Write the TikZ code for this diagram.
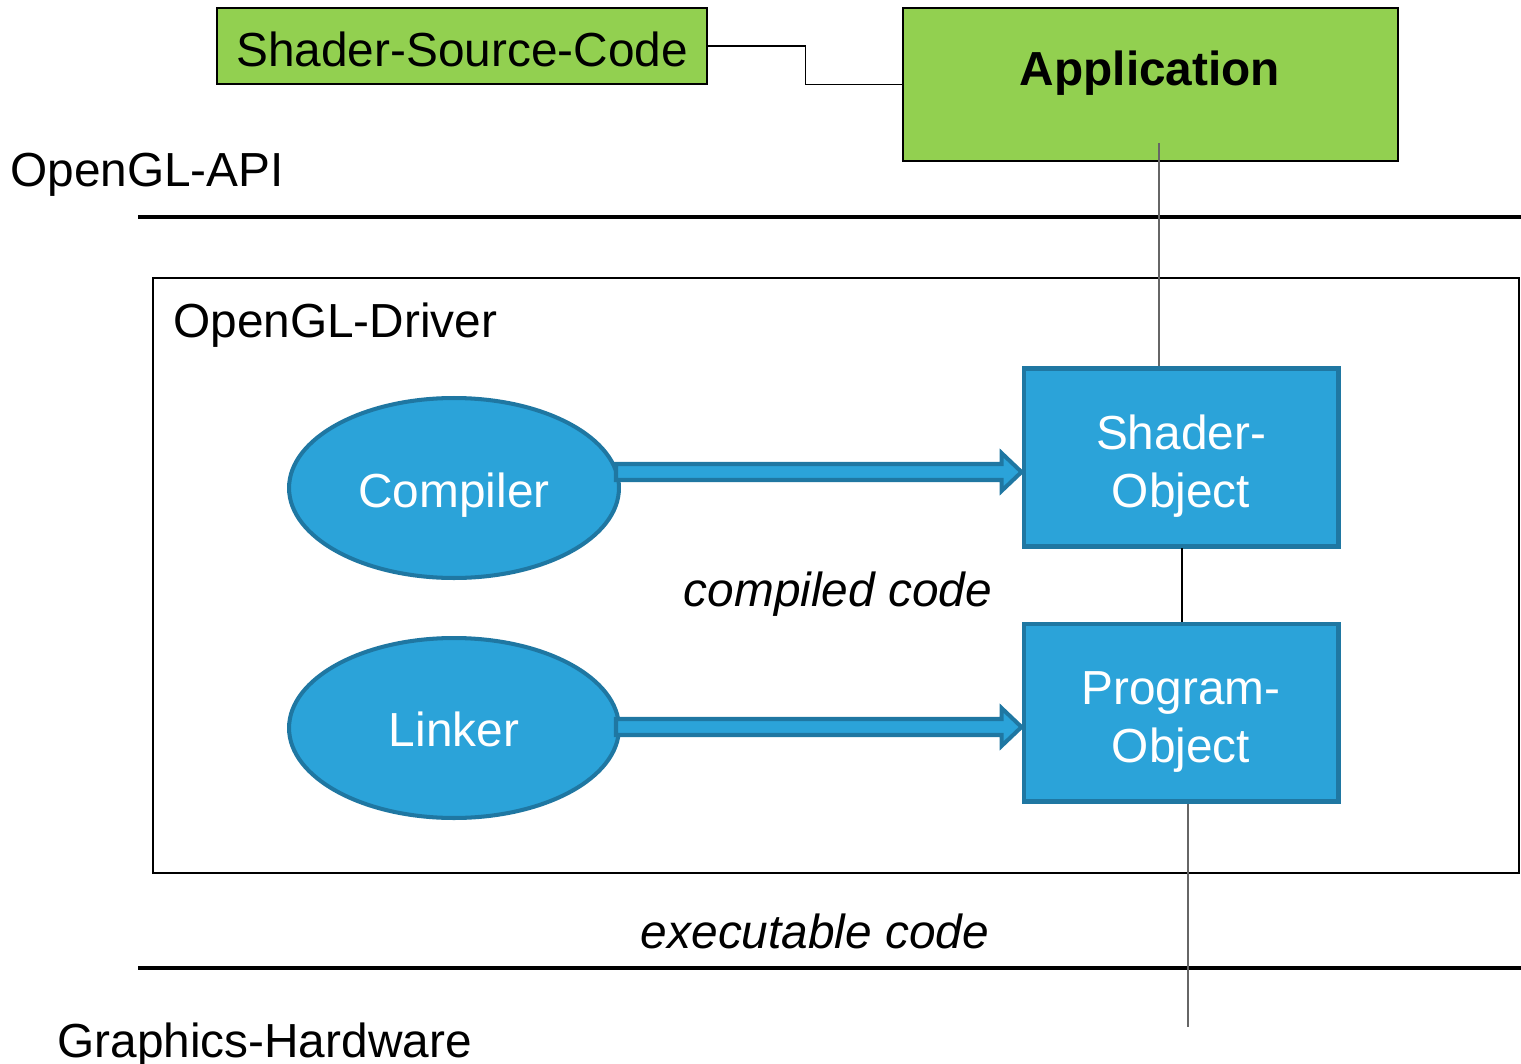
\documentclass[tikz,border=0pt]{standalone}
\usepackage{fontspec}
\setmainfont{Liberation Sans}
\usetikzlibrary{shapes.geometric,calc}
\definecolor{leaf}{HTML}{92D050}
\definecolor{sky}{HTML}{2BA3D9}
\definecolor{deepsky}{HTML}{1F77A2}
\newcommand{\labelsize}{\fontsize{27.2pt}{33pt}\selectfont}
\tikzset{
  lbl/.style={font=\labelsize, inner sep=0pt},
  greenbox/.style={draw=black, line width=0.8pt, fill=leaf, inner sep=0pt},
  unit/.style={ellipse, draw=deepsky, line width=2.3pt, fill=sky, inner sep=0pt,
    minimum width=6.6cm, minimum height=3.6cm},
  obj/.style={rectangle, draw=deepsky, line width=2.3pt, fill=sky, inner sep=0pt,
    minimum width=6.3cm, minimum height=3.56cm},
  layer/.style={line width=2.3pt, black},
  wire/.style={line width=0.8pt, black!60},
  fat/.style={draw=deepsky, fill=sky, line width=2.3pt, line join=miter},
}
% outlined block arrow from #1 to #2 (horizontal)
\newcommand{\blockarrow}[2]{%
  \draw[fat] ($(#1)+(0,-8)$) -- ($(#2)+(-20,-8)$) -- ($(#2)+(-20,-19)$) -- (#2)
    -- ($(#2)+(-20,19)$) -- ($(#2)+(-20,8)$) -- ($(#1)+(0,8)$) -- cycle;}
\begin{document}
\begin{tikzpicture}[x=0.02cm, y=-0.02cm]
\useasboundingbox (0,0) rectangle (1521,1064);

% layer separators
\draw[layer] (138,217) -- (1521,217);
\draw[layer] (138,968) -- (1521,968);

% driver frame
\draw[line width=1.1pt] (153,278) rectangle (1519,873);

% application side
\node[greenbox, minimum width=9.8cm, minimum height=1.52cm] (ssc) at (462,46) {};
\node[lbl, anchor=base] at (462,67) {Shader-Source-Code};
\node[greenbox, minimum width=9.9cm, minimum height=3.06cm] (app) at (1150.5,84.5) {};
\node[lbl, font=\labelsize\bfseries, anchor=base] at (1150,86) {Application};

\draw[line width=0.8pt] (ssc.east) -- ++(98,0) |- (app.west);

% layer labels
\node[lbl, anchor=base west] at (10,187) {OpenGL-API};
\node[lbl, anchor=base west] at (173,337) {OpenGL-Driver};
\node[lbl, anchor=base west] at (57,1057) {Graphics-Hardware};

% driver components
\node[unit] (comp) at (454,488) {};
\node[lbl, text=white, anchor=base] at (454,507) {Compiler};
\node[unit] (link) at (454,728) {};
\node[lbl, text=white, anchor=base] at (454,746) {Linker};

\node[obj] (so) at (1181,457.5) {};
\node[lbl, text=white, anchor=base] at (1181,449) {Shader-};
\node[lbl, text=white, anchor=base] at (1181,507) {Object};
\node[obj] (po) at (1181,712.5) {};
\node[lbl, text=white, anchor=base] at (1181,704) {Program-};
\node[lbl, text=white, anchor=base] at (1181,762) {Object};

% block arrows
\coordinate (c1s) at (616,472);
\coordinate (c1e) at (so.west |- c1s);
\blockarrow{c1s}{c1e}
\coordinate (c2s) at (616,727);
\coordinate (c2e) at (po.west |- c2s);
\blockarrow{c2s}{c2e}

% data labels
\node[lbl, font=\labelsize\itshape, anchor=base] at (838,606) {compiled code};
\node[lbl, font=\labelsize\itshape, anchor=base] at (815,948) {executable code};

% links between levels
\coordinate (appin) at (1159,143);
\draw[wire] (appin) -- (appin |- so.north);
\draw[line width=0.9pt] (1182,548) coordinate (sob) -- (sob |- po.north);
\coordinate (hw) at (1188,1027);
\draw[wire] (hw |- po.south) -- (hw);
\end{tikzpicture}
\end{document}
